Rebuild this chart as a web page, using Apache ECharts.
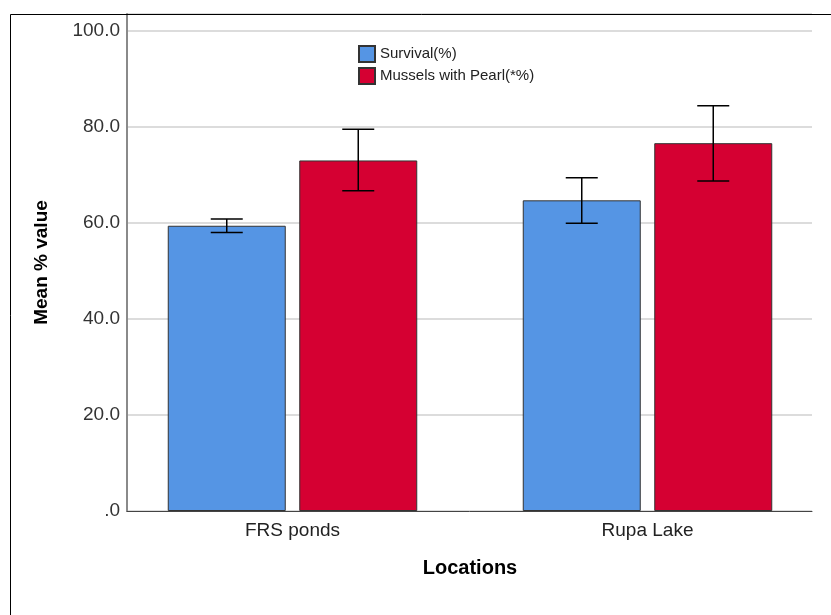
<!DOCTYPE html>
<html>
<head>
<meta charset="utf-8">
<script src="https://cdn.jsdelivr.net/npm/echarts@6/dist/echarts.min.js"></script>
<style>html,body{margin:0;padding:0;background:#fff;}#c{width:831px;height:615px;}</style>
</head>
<body>
<div id="c"></div>
<script>
// ---- data ----
var categories = ['FRS ponds', 'Rupa Lake'];
var seriesNames = ['Survival(%)', 'Mussels with Pearl(*%)'];
var survival = [59.4, 64.7];
var survivalLow = [58.0, 59.9];
var survivalHigh = [60.8, 69.4];
var pearl = [73.0, 76.6];
var pearlLow = [66.7, 68.7];
var pearlHigh = [79.5, 84.4];
var yTicks = [0, 20, 40, 60, 80, 100];

// ---- styles ----
var FONT = '"Liberation Sans", Arial, sans-serif';
var BLUE = '#5595e4';
var RED = '#d50032';
var BAR_W = 118;
var BAR_GAP_PX = 13.5;
var OFFSET = (BAR_W + BAR_GAP_PX) / 2;

function errData(lo, hi) {
  return categories.map(function (c, i) { return [i, lo[i], hi[i]]; });
}
function errRender(sign) {
  return function (params, api) {
    var top = api.coord([api.value(0), api.value(2)]);
    var bot = api.coord([api.value(0), api.value(1)]);
    var x = top[0] + sign * OFFSET;
    var cap = 16;
    var st = { stroke: '#000', lineWidth: 1.5 };
    return {
      type: 'group',
      children: [
        { type: 'line', shape: { x1: x, y1: top[1], x2: x, y2: bot[1] }, style: st },
        { type: 'line', shape: { x1: x - cap, y1: top[1], x2: x + cap, y2: top[1] }, style: st },
        { type: 'line', shape: { x1: x - cap, y1: bot[1], x2: x + cap, y2: bot[1] }, style: st }
      ]
    };
  };
}

var chart = echarts.init(document.getElementById('c'), null, { renderer: 'canvas' });
chart.setOption({
  animation: false,
  backgroundColor: '#fff',
  textStyle: { fontFamily: FONT },
  graphic: [{
    type: 'rect', z: 100,
    shape: { x: 10.5, y: 14.5, width: 900, height: 900 },
    style: { fill: 'none', stroke: '#000', lineWidth: 1 },
    silent: true
  }],
  legend: {
    orient: 'vertical', left: 358, top: 45, padding: 0,
    itemWidth: 16, itemHeight: 16, itemGap: 4,
    icon: 'rect',
    data: seriesNames,
    textStyle: { fontSize: 15, color: '#222', fontFamily: FONT }
  },
  grid: [
    { left: 127, right: 19, top: 14, bottom: 104 },
    { left: 115, right: 6, top: 14, bottom: 104 }
  ],
  xAxis: [
    { type: 'value', gridIndex: 0, min: 0, max: 1, z: 20,
      axisLine: { show: true, onZero: false, lineStyle: { color: '#444', width: 1 } },
      axisTick: { show: false }, axisLabel: { show: false }, splitLine: { show: false } },
    { type: 'category', gridIndex: 1, data: categories,
      axisLine: { show: false }, axisTick: { show: false }, splitLine: { show: false },
      axisLabel: { fontSize: 19, color: '#222', margin: 10, fontFamily: FONT },
      name: 'Locations', nameLocation: 'middle', nameGap: 47,
      nameTextStyle: { fontSize: 20, fontWeight: 'bold', color: '#000', fontFamily: FONT } }
  ],
  yAxis: [
    { type: 'value', gridIndex: 0, min: 0, max: 103.5, interval: 20,
      axisLine: { show: true, lineStyle: { color: '#8a8a8a', width: 2 } },
      axisTick: { show: false },
      splitLine: { show: true, lineStyle: { color: '#d0d0d0', width: 1.5 } },
      axisLabel: { fontSize: 19, color: '#333', margin: 7, fontFamily: FONT,
        formatter: function (v) {
          if (yTicks.indexOf(v) < 0) return '';
          return v === 0 ? '.0' : v.toFixed(1);
        } },
      name: 'Mean % value', nameLocation: 'middle', nameGap: 76,
      nameTextStyle: { fontSize: 19, fontWeight: 'bold', color: '#000', fontFamily: FONT } },
    { type: 'value', gridIndex: 1, min: 0, max: 103.5, interval: 20, show: false,
      splitLine: { show: false } }
  ],
  series: [
    { name: seriesNames[0], type: 'bar', xAxisIndex: 1, yAxisIndex: 1, data: survival,
      barWidth: BAR_W, barGap: (BAR_GAP_PX / BAR_W * 100) + '%',
      itemStyle: { color: BLUE, borderColor: '#333', borderWidth: 1 } },
    { name: seriesNames[1], type: 'bar', xAxisIndex: 1, yAxisIndex: 1, data: pearl,
      barWidth: BAR_W, barGap: (BAR_GAP_PX / BAR_W * 100) + '%',
      itemStyle: { color: RED, borderColor: '#333', borderWidth: 1 } },
    { type: 'custom', xAxisIndex: 1, yAxisIndex: 1, z: 10, silent: true,
      renderItem: errRender(-1), data: errData(survivalLow, survivalHigh) },
    { type: 'custom', xAxisIndex: 1, yAxisIndex: 1, z: 10, silent: true,
      renderItem: errRender(1), data: errData(pearlLow, pearlHigh) }
  ]
});
</script>
</body>
</html>
